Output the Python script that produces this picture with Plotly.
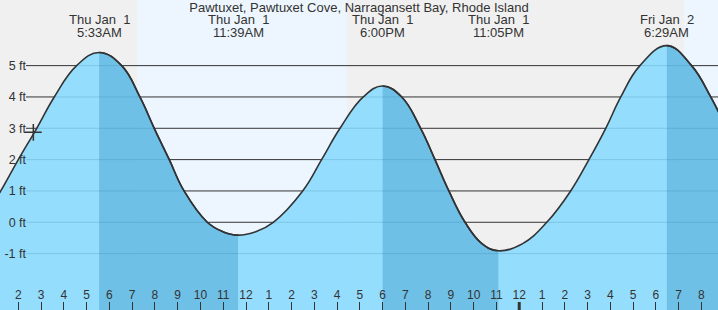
import plotly.graph_objects as go

# ---------------- data ----------------
title_text = "Pawtuxet, Pawtuxet Cove, Narragansett Bay, Rhode Island"

# hours since midnight Jan 1 and tide height (ft) along the curve
tide_hours = [0.80, 1.23, 2.00, 2.81, 3.58, 4.56, 5.55, 6.54, 7.34, 7.97, 8.63,
              9.28, 10.30, 10.98, 11.65, 12.43, 13.20, 14.49, 15.32, 16.13,
              17.15, 18.00, 18.84, 19.67, 20.30, 20.91, 21.62, 22.36, 23.083,
              24.15, 25.21, 26.26, 27.06, 27.80, 28.46, 29.30, 30.483, 31.57,
              32.41, 33.10]
tide_ft = [0.50, 1.0, 2.0, 3.0, 4.0, 5.0, 5.42, 5.0, 4.0, 3.0, 2.0,
           1.0, 0.0, -0.30, -0.41, -0.30, 0.0, 1.0, 2.0, 3.0,
           4.0, 4.35, 4.0, 3.0, 2.0, 1.0, 0.0, -0.68, -0.91,
           -0.68, 0.0, 1.0, 2.0, 3.0, 4.0, 5.0, 5.64, 5.0,
           4.0, 3.0]

extreme_hours = [5.55, 11.65, 18.00, 23.083, 30.483]
extreme_kind = ["high", "low", "high", "low", "high"]
extreme_dates = ["Thu Jan  1", "Thu Jan  1", "Thu Jan  1", "Thu Jan  1", "Fri Jan  2"]
extreme_times = ["5:33AM", "11:39AM", "6:00PM", "11:05PM", "6:29AM"]

sunrise_hours = [7.217, 31.233]
sunset_hours = [16.433, 40.45]

now_hour = 2.66
now_ft = 2.87

hour_ticks = list(range(2, 33))
hour_labels = [str((h - 1) % 12 + 1) for h in hour_ticks]
ft_ticks = [5, 4, 3, 2, 1, 0, -1]
ft_labels = [f"{v} ft" for v in ft_ticks]

x_range = [1.196, 32.73]
y_range = [-2.80, 7.095]

# ---------------- styles ----------------
W, H = 718, 310
night_bg = "#F0F0F0"
day_bg = "#EDF6FE"
light_fill = "rgba(135,217,254,0.88)"
dark_fill = "rgba(0,108,164,0.25)"
line_col = "#333333"
text_col = "#333333"
FONT = "Liberation Sans, Arial, sans-serif"
SMOOTH = 1.2

fig = go.Figure()

span = x_range[1] - x_range[0]
base = [y_range[0]] * len(tide_hours)


def add_curve(xa, fillcolor):
    fig.add_trace(go.Scatter(x=tide_hours, y=base, mode="lines",
                             line=dict(width=0), xaxis=xa, yaxis="y",
                             hoverinfo="skip", showlegend=False))
    fig.add_trace(go.Scatter(x=tide_hours, y=tide_ft, mode="lines",
                             line=dict(color=line_col, width=1.6, shape="spline",
                                       smoothing=SMOOTH),
                             fill="tonexty", fillcolor=fillcolor,
                             xaxis=xa, yaxis="y", hoverinfo="skip",
                             showlegend=False))


# main light-blue tide area
add_curve("x", light_fill)

layout_axes = {}
# darker bands: falling tide (from each high to the following low)
band_id = 2
for i, k in enumerate(extreme_kind):
    if k != "high":
        continue
    t0 = extreme_hours[i]
    t1 = extreme_hours[i + 1] if i + 1 < len(extreme_hours) else x_range[1]
    t1 = min(t1, x_range[1])
    d0 = (t0 - x_range[0]) / span
    d1 = (t1 - x_range[0]) / span
    name = f"xaxis{band_id}"
    layout_axes[name] = dict(domain=[d0, d1], range=[t0, t1], anchor="y",
                             visible=False, fixedrange=True)
    add_curve(f"x{band_id}", dark_fill)
    band_id += 1

tick_axis = band_id  # topmost axis carrying the hour ticks

# current time marker
fig.add_trace(go.Scatter(x=[now_hour], y=[now_ft], mode="markers",
                         marker=dict(symbol="cross-thin", size=12,
                                     line=dict(color=line_col, width=1.5)),
                         xaxis="x", yaxis="y", hoverinfo="skip",
                         showlegend=False))

shapes = []
# daylight backgrounds
for sr, ss in zip(sunrise_hours, sunset_hours):
    shapes.append(dict(type="rect", xref="x", yref="y", x0=sr, x1=ss,
                       y0=y_range[0], y1=y_range[1], fillcolor=day_bg,
                       line=dict(width=0), layer="below"))
# grid lines (start right of the labels)
grid_x0 = x_range[0] + 26 / W * span
for v in ft_ticks:
    shapes.append(dict(type="line", xref="x", yref="y", x0=grid_x0,
                       x1=x_range[1], y0=v, y1=v,
                       line=dict(color=line_col, width=1), layer="below"))
# heavier tick at midnight
for h in hour_ticks:
    if h % 24 == 0:
        shapes.append(dict(type="line", xref=f"x{tick_axis}", yref="paper",
                           x0=h, x1=h, y0=0, y1=8 / H,
                           line=dict(color=line_col, width=3), layer="above"))

annotations = []
for t, d, tm in zip(extreme_hours, extreme_dates, extreme_times):
    annotations.append(dict(x=t, xref="x", y=1 - 20 / H, yref="paper",
                            text=d.replace("  ", "\u00a0 "), showarrow=False,
                            xanchor="center", yanchor="middle",
                            font=dict(size=13, color=text_col, family=FONT)))
    annotations.append(dict(x=t, xref="x", y=1 - 32 / H, yref="paper",
                            text=tm, showarrow=False,
                            xanchor="center", yanchor="middle",
                            font=dict(size=13, color=text_col, family=FONT)))

layout_axes[f"xaxis{tick_axis}"] = dict(
    domain=[0, 1], range=x_range, anchor="y", tickmode="array",
    tickvals=hour_ticks, ticktext=hour_labels, ticks="inside", ticklen=8,
    tickwidth=1, tickcolor=line_col, ticklabelposition="inside",
    showgrid=False, zeroline=False, showline=False, fixedrange=True,
    tickfont=dict(size=12, color=text_col, family=FONT))

fig.update_layout(
    width=W, height=H, autosize=False,
    margin=dict(l=0, r=0, t=0, b=0, pad=0),
    paper_bgcolor=night_bg, plot_bgcolor="rgba(0,0,0,0)",
    showlegend=False,
    title=dict(text=title_text, x=0.5, xanchor="center", xref="paper",
               y=1 - 7.5 / H, yanchor="middle", yref="paper",
               font=dict(size=13, color=text_col, family=FONT)),
    xaxis=dict(domain=[0, 1], range=x_range, anchor="y", visible=False,
               fixedrange=True),
    yaxis=dict(domain=[0, 1], range=y_range, anchor="free", position=26 / W,
               tickmode="array", tickvals=ft_ticks, ticktext=ft_labels,
               ticks="", showgrid=False, zeroline=False, showline=False,
               fixedrange=True,
               tickfont=dict(size=12.5, color=text_col, family=FONT)),
    shapes=shapes,
    annotations=annotations,
    **layout_axes,
)

fig.write_html("out.html", include_plotlyjs=True, config={"displayModeBar": False})
